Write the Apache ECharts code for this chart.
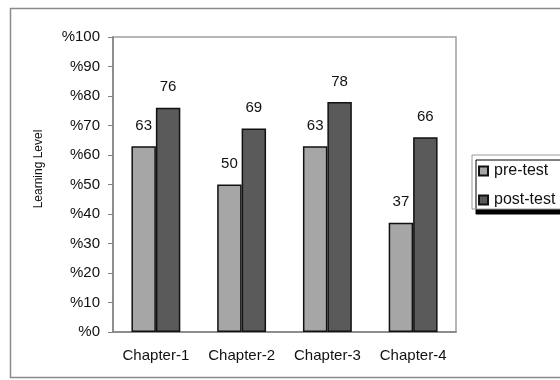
<!DOCTYPE html>
<html>
<head>
<meta charset="utf-8">
<script src="https://cdn.jsdelivr.net/npm/echarts@6/dist/echarts.min.js"></script>
<style>html,body{margin:0;padding:0;background:#fff}#c{width:560px;height:380px}</style>
</head>
<body>
<div id="c"></div>
<script>
const categories = ['Chapter-1', 'Chapter-2', 'Chapter-3', 'Chapter-4'];
const preTest = [63, 50, 63, 37];
const postTest = [76, 69, 78, 66];
const yTicks = [0, 10, 20, 30, 40, 50, 60, 70, 80, 90, 100];

const chart = echarts.init(document.getElementById('c'), null, { renderer: 'canvas' });
const font = 'Liberation Sans, Arial, sans-serif';

chart.setOption({
  animation: false,
  backgroundColor: '#fff',
  graphic: [{
    type: 'rect',
    shape: { x: 10.5, y: 8.5, width: 600, height: 369 },
    style: { fill: 'none', stroke: '#8a8a8a', lineWidth: 1.5 },
    z: -1
  }],
  grid: {
    left: 113, top: 37, right: 104, bottom: 48,
    show: true, borderColor: '#a0a0a0', borderWidth: 1.5
  },
  legend: {
    orient: 'vertical',
    left: 472, top: 155,
    width: 120,
    padding: [8, 30, 1, 6],
    itemGap: 13,
    itemWidth: 9, itemHeight: 9,
    icon: 'rect',
    backgroundColor: '#fff',
    borderColor: '#9a9a9a', borderWidth: 1,
    shadowColor: '#000', shadowBlur: 0, shadowOffsetX: 4, shadowOffsetY: 5,
    textStyle: { fontFamily: font, fontSize: 16, color: '#111', padding: [0, 0, 0, 1] },
    data: ['pre-test', 'post-test']
  },
  xAxis: {
    type: 'category',
    data: categories,
    axisLine: { lineStyle: { color: '#808080', width: 1.5 } },
    axisTick: { show: false },
    axisLabel: { interval: 0, fontFamily: font, fontSize: 15, color: '#111', margin: 16 }
  },
  yAxis: {
    type: 'value',
    min: 0, max: 100, interval: 10,
    name: 'Learning Level',
    nameLocation: 'middle',
    nameGap: 68,
    nameTextStyle: { fontFamily: font, fontSize: 12, color: '#111', padding: [0, 0, 0, 31] },
    splitLine: { show: false },
    axisLine: { show: true, lineStyle: { color: '#808080', width: 1.5 } },
    axisTick: { show: true, length: 5, lineStyle: { color: '#808080' } },
    axisLabel: {
      fontFamily: font, fontSize: 15, color: '#111', margin: 13,
      formatter: v => yTicks.includes(v) ? '%' + v : ''
    }
  },
  series: [{
    name: 'pre-test',
    type: 'bar',
    data: preTest,
    barGap: '0%',
    barCategoryGap: '43%',
    itemStyle: { color: '#a6a6a6', borderColor: '#111', borderWidth: 1.5 },
    label: { show: true, position: 'top', distance: 13, fontFamily: font, fontSize: 15, color: '#111' }
  }, {
    name: 'post-test',
    type: 'bar',
    data: postTest,
    itemStyle: { color: '#5a5a5a', borderColor: '#111', borderWidth: 1.5 },
    label: { show: true, position: 'top', distance: 13, fontFamily: font, fontSize: 15, color: '#111' }
  }]
});
</script>
</body>
</html>
